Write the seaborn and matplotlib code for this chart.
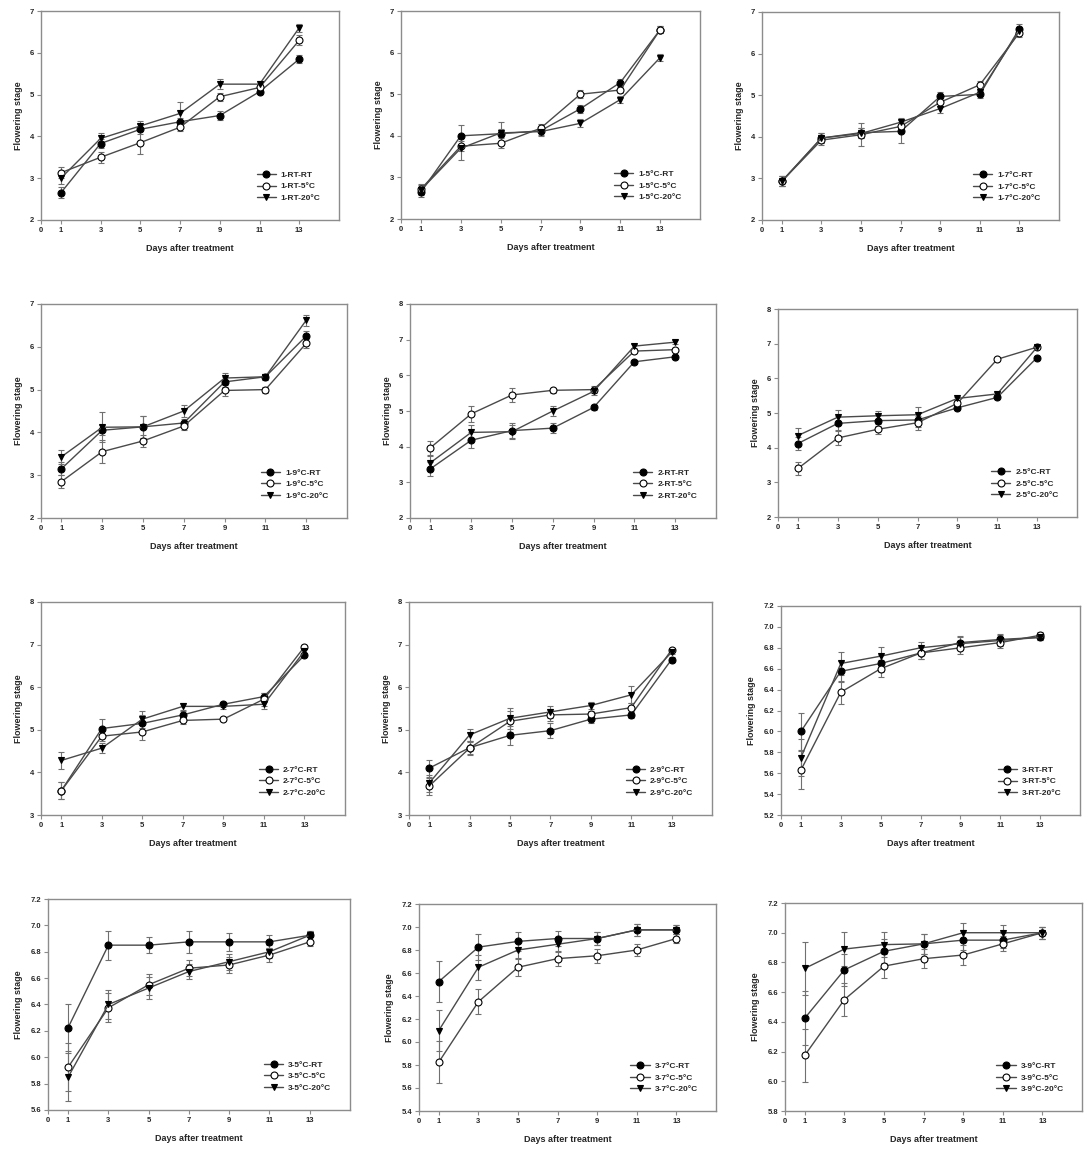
import matplotlib
matplotlib.use("Agg")
import matplotlib.pyplot as plt
import seaborn as sns
import pandas as pd

sns.set_style("white")
plt.rcParams['font.family'] = ['Liberation Sans', 'DejaVu Sans']

# ---------------- data ----------------
days = [1, 3, 5, 7, 9, 11, 13]
x_ticks = [0, 1, 3, 5, 7, 9, 11, 13]
treatments = ["RT", "5°C", "20°C"]
panel_prefix = ["1-RT", "1-5°C", "1-7°C", "1-9°C",
                "2-RT", "2-5°C", "2-7°C", "2-9°C",
                "3-RT", "3-5°C", "3-7°C", "3-9°C"]

# each: [RT, 5°C, 20°C]
p01_mean = [[2.65, 3.83, 4.17, 4.35, 4.50, 5.07, 5.85],
            [3.13, 3.50, 3.85, 4.22, 4.95, 5.17, 6.30],
            [3.00, 3.95, 4.25, 4.55, 5.25, 5.25, 6.60]]
p01_err = [[0.13, 0.10, 0.12, 0.10, 0.10, 0.05, 0.10],
           [0.13, 0.13, 0.27, 0.10, 0.10, 0.08, 0.12],
           [0.15, 0.13, 0.12, 0.28, 0.12, 0.08, 0.10]]

p02_mean = [[2.65, 4.00, 4.05, 4.12, 4.65, 5.28, 6.55],
            [2.72, 3.75, 3.82, 4.18, 5.00, 5.10, 6.55],
            [2.70, 3.70, 4.07, 4.10, 4.30, 4.87, 5.88]]
p02_err = [[0.12, 0.27, 0.28, 0.10, 0.10, 0.08, 0.08],
           [0.12, 0.12, 0.12, 0.10, 0.10, 0.08, 0.08],
           [0.12, 0.27, 0.10, 0.10, 0.10, 0.08, 0.08]]

p03_mean = [[2.93, 3.97, 4.10, 4.13, 4.97, 5.02, 6.60],
            [2.93, 3.92, 4.05, 4.25, 4.83, 5.25, 6.50],
            [2.93, 3.97, 4.08, 4.35, 4.68, 5.07, 6.55]]
p03_err = [[0.12, 0.12, 0.12, 0.27, 0.10, 0.08, 0.10],
           [0.12, 0.12, 0.27, 0.10, 0.10, 0.08, 0.10],
           [0.12, 0.12, 0.12, 0.10, 0.10, 0.08, 0.10]]

p04_mean = [[3.15, 4.05, 4.13, 4.22, 5.18, 5.30, 6.25],
            [2.85, 3.55, 3.80, 4.15, 4.98, 5.00, 6.08],
            [3.43, 4.12, 4.13, 4.50, 5.27, 5.30, 6.62]]
p04_err = [[0.15, 0.12, 0.25, 0.10, 0.12, 0.07, 0.12],
           [0.15, 0.27, 0.13, 0.10, 0.12, 0.07, 0.10],
           [0.17, 0.35, 0.25, 0.15, 0.12, 0.07, 0.13]]

p05_mean = [[3.38, 4.18, 4.45, 4.52, 5.10, 6.38, 6.52],
            [3.97, 4.92, 5.45, 5.58, 5.60, 6.68, 6.72],
            [3.55, 4.40, 4.42, 5.00, 5.55, 6.82, 6.93]]
p05_err = [[0.20, 0.22, 0.20, 0.15, 0.07, 0.05, 0.05],
           [0.20, 0.22, 0.20, 0.07, 0.10, 0.05, 0.05],
           [0.20, 0.22, 0.20, 0.15, 0.10, 0.05, 0.05]]

p06_mean = [[4.12, 4.70, 4.78, 4.80, 5.15, 5.45, 6.60],
            [3.40, 4.28, 4.53, 4.72, 5.28, 6.55, 6.90],
            [4.35, 4.88, 4.92, 4.95, 5.42, 5.55, 6.90]]
p06_err = [[0.20, 0.20, 0.15, 0.20, 0.05, 0.05, 0.05],
           [0.20, 0.20, 0.15, 0.20, 0.05, 0.05, 0.05],
           [0.22, 0.20, 0.15, 0.22, 0.05, 0.05, 0.05]]

p07_mean = [[3.57, 5.03, 5.15, 5.35, 5.60, 5.78, 6.75],
            [3.57, 4.85, 4.95, 5.22, 5.25, 5.72, 6.95],
            [4.28, 4.57, 5.25, 5.55, 5.55, 5.60, 6.85]]
p07_err = [[0.20, 0.22, 0.20, 0.08, 0.05, 0.08, 0.05],
           [0.20, 0.12, 0.20, 0.08, 0.05, 0.15, 0.05],
           [0.20, 0.12, 0.20, 0.08, 0.05, 0.10, 0.05]]

p08_mean = [[4.10, 4.58, 4.87, 4.98, 5.25, 5.35, 6.65],
            [3.68, 4.57, 5.20, 5.35, 5.37, 5.52, 6.88],
            [3.75, 4.88, 5.27, 5.42, 5.57, 5.82, 6.82]]
p08_err = [[0.20, 0.15, 0.22, 0.18, 0.08, 0.07, 0.05],
           [0.20, 0.15, 0.25, 0.15, 0.08, 0.10, 0.05],
           [0.20, 0.15, 0.25, 0.15, 0.08, 0.20, 0.05]]

p09_mean = [[6.00, 6.575, 6.65, 6.75, 6.85, 6.88, 6.90],
            [5.63, 6.375, 6.60, 6.75, 6.80, 6.85, 6.92],
            [5.75, 6.65, 6.72, 6.80, 6.84, 6.87, 6.90]]
p09_err = [[0.18, 0.10, 0.08, 0.06, 0.06, 0.05, 0.03],
           [0.18, 0.11, 0.08, 0.06, 0.06, 0.05, 0.03],
           [0.18, 0.11, 0.09, 0.06, 0.06, 0.05, 0.03]]

p10_mean = [[6.225, 6.85, 6.85, 6.875, 6.875, 6.875, 6.925],
            [5.925, 6.375, 6.55, 6.675, 6.70, 6.775, 6.875],
            [5.85, 6.40, 6.525, 6.65, 6.725, 6.80, 6.925]]
p10_err = [[0.18, 0.11, 0.06, 0.085, 0.07, 0.05, 0.035],
           [0.18, 0.11, 0.08, 0.06, 0.06, 0.05, 0.035],
           [0.18, 0.11, 0.08, 0.06, 0.06, 0.05, 0.035]]

p11_mean = [[6.525, 6.825, 6.875, 6.90, 6.90, 6.975, 6.975],
            [5.825, 6.35, 6.65, 6.725, 6.75, 6.80, 6.90],
            [6.10, 6.65, 6.80, 6.85, 6.90, 6.975, 6.975]]
p11_err = [[0.18, 0.11, 0.08, 0.065, 0.06, 0.05, 0.04],
           [0.18, 0.11, 0.08, 0.065, 0.06, 0.05, 0.04],
           [0.18, 0.11, 0.08, 0.065, 0.06, 0.05, 0.04]]

p12_mean = [[6.425, 6.75, 6.875, 6.925, 6.95, 6.95, 7.00],
            [6.175, 6.55, 6.775, 6.825, 6.85, 6.925, 7.00],
            [6.76, 6.89, 6.92, 6.925, 7.00, 7.00, 7.00]]
p12_err = [[0.18, 0.11, 0.08, 0.065, 0.065, 0.05, 0.04],
           [0.18, 0.11, 0.08, 0.065, 0.065, 0.05, 0.04],
           [0.18, 0.115, 0.085, 0.065, 0.065, 0.05, 0.04]]

means = [p01_mean, p02_mean, p03_mean, p04_mean, p05_mean, p06_mean,
         p07_mean, p08_mean, p09_mean, p10_mean, p11_mean, p12_mean]
errs = [p01_err, p02_err, p03_err, p04_err, p05_err, p06_err,
        p07_err, p08_err, p09_err, p10_err, p11_err, p12_err]

y_ranges = [(2, 7, 1), (2, 7, 1), (2, 7, 1), (2, 7, 1),
            (2, 8, 1), (2, 8, 1), (3, 8, 1), (3, 8, 1),
            (5.2, 7.2, 0.2), (5.6, 7.2, 0.2), (5.4, 7.2, 0.2), (5.8, 7.2, 0.2)]

# ---------------- layout (pixels: left, top, right, bottom) ----------------
W, H = 1090, 1156
rects = [(41, 11, 339, 220), (401, 11, 700, 219), (762, 12, 1059, 220),
         (41, 304, 347, 518), (410, 304, 716, 518), (778, 309, 1077, 517),
         (41, 602, 345, 815), (409, 602, 712, 815), (781, 606, 1080, 815),
         (48, 899, 350, 1110), (419, 904, 716, 1111), (785, 903, 1082, 1111)]

markers = ['o', 'o', 'v']
faces = ['black', 'white', 'black']
line_color = '#4a4a4a'
frame_color = '#8c8c8c'

fig = plt.figure(figsize=(W / 100, H / 100), dpi=100)
fig.patch.set_facecolor('white')

for i in range(12):
    l, t, r, b = rects[i]
    ax = fig.add_axes([l / W, 1 - b / H, (r - l) / W, (b - t) / H])
    for j, tr in enumerate(treatments):
        ax.errorbar(days, means[i][j], yerr=errs[i][j], fmt='none',
                    ecolor='#707070', elinewidth=0.8, capsize=2.5,
                    capthick=0.8, zorder=2)
        df = pd.DataFrame({"Days after treatment": days,
                           "Flowering stage": means[i][j]})
        sns.lineplot(data=df, x="Days after treatment", y="Flowering stage",
                     ax=ax, color=line_color, linewidth=1.0,
                     marker=markers[j], markersize=5,
                     markerfacecolor=faces[j], markeredgecolor='black',
                     markeredgewidth=0.8, label=f"{panel_prefix[i]}-{tr}",
                     zorder=3)
    y0, y1, st = y_ranges[i]
    n = int(round((y1 - y0) / st))
    yt = [round(y0 + k * st, 1) for k in range(n + 1)]
    ax.set_ylim(y0, y1)
    ax.set_yticks(yt)
    if st < 1:
        ax.set_yticklabels([f"{v:.1f}" for v in yt])
    else:
        ax.set_yticklabels([f"{int(v)}" for v in yt])
    ax.set_xlim(0, 15)
    ax.set_xticks(x_ticks)
    ax.set_xticklabels([str(v) for v in x_ticks])
    for sp in ax.spines.values():
        sp.set_color(frame_color)
        sp.set_linewidth(1.0)
        sp.set_visible(True)
    ax.tick_params(axis='both', direction='out', length=3, width=0.8,
                   color=frame_color, labelsize=5.5, pad=2,
                   bottom=True, left=True)
    for lab in ax.get_xticklabels() + ax.get_yticklabels():
        lab.set_fontweight('bold')
    ax.set_xlabel("Days after treatment", fontsize=6.5, fontweight='bold',
                  labelpad=7)
    ax.set_ylabel("Flowering stage", fontsize=6.5, fontweight='bold',
                  labelpad=5)
    leg = ax.legend(loc='lower right', bbox_to_anchor=(0.95, 0.07),
                    frameon=False, prop={'size': 6, 'weight': 'bold'},
                    handlelength=2.3, handletextpad=0.6, labelspacing=0.45,
                    borderaxespad=0)

fig.savefig("out.png", dpi=100, facecolor='white')
